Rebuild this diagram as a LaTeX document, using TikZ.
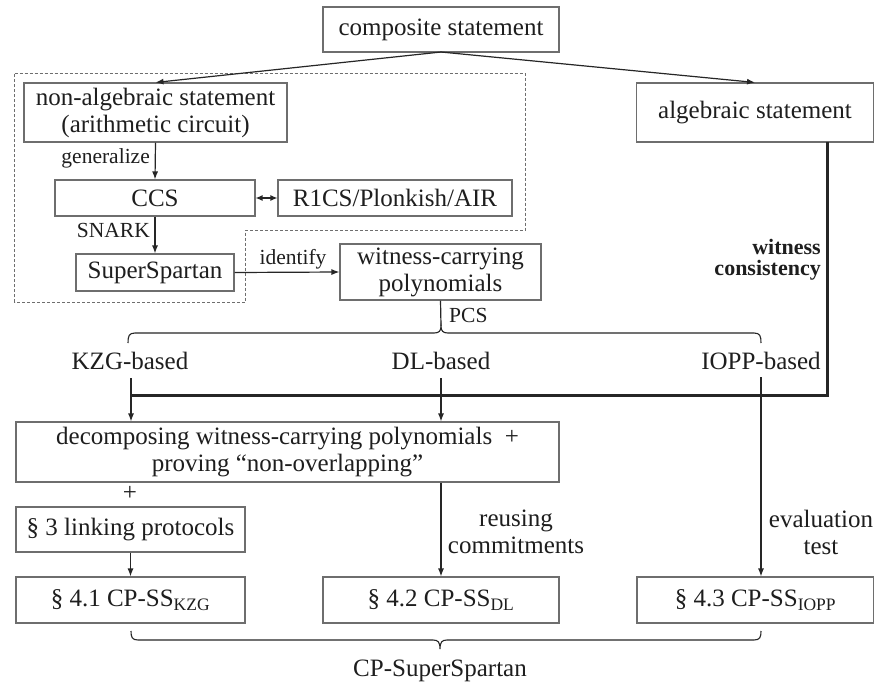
\documentclass[tikz,border=0pt]{standalone}
\usepackage{fontspec}
\setmainfont{Liberation Serif}
\usetikzlibrary{arrows.meta}
\definecolor{boxgray}{HTML}{6E6E6E}
\definecolor{txt}{HTML}{1E1E1E}
\definecolor{arrc}{HTML}{262626}
\begin{document}
\begin{tikzpicture}[x=1pt,y=-1pt,
  box/.style={draw=boxgray, line width=1.1pt, inner sep=0pt, align=center,
    font=\fontsize{25}{27}\selectfont, text=txt},
  lbl/.style={inner sep=0pt, font=\fontsize{21.5}{23}\selectfont, text=txt},
  big/.style={inner sep=0pt, align=center, font=\fontsize{25}{27}\selectfont, text=txt},
  arr/.style={draw=arrc, line width=1.2pt, -{Latex[length=8pt,width=6pt]}},
  plain/.style={draw=arrc, line width=1.2pt},
  thickln/.style={draw=arrc, line width=3pt},
  brc/.style={draw=arrc, line width=1.1pt},
  dashbox/.style={draw=boxgray, line width=0.9pt, dash pattern=on 3pt off 2pt}
]
\useasboundingbox[fill=white] (0,0) rectangle (874,683);

% nodes
\node[box, minimum width=236pt, minimum height=45pt] (comp) at (441,29.5) {composite statement};
\node[box, minimum width=263pt, minimum height=59pt] (nonalg) at (155.5,112.5) {non-algebraic statement\\(arithmetic circuit)};
\node[box, minimum width=237pt, minimum height=59pt] (alg) at (755,112.5) {algebraic statement};
\node[box, minimum width=200pt, minimum height=36pt] (ccs) at (155,198) {CCS};
\node[box, minimum width=234pt, minimum height=36pt] (r1cs) at (395,198) {R1CS/Plonkish/AIR};
\node[box, minimum width=158pt, minimum height=37pt] (ss) at (155,272.5) {SuperSpartan};
\node[box, minimum width=201pt, minimum height=56pt] (wcp) at (440.5,272) {witness-carrying\\polynomials};
\node[box, minimum width=543pt, minimum height=60pt] (dec) at (287.5,452) {decomposing witness-carrying polynomials~~+\\proving “non-overlapping”};
\node[box, minimum width=229pt, minimum height=45pt] (link) at (130.5,529.5) {§ 3 linking protocols};
\node[box, minimum width=229pt, minimum height=46pt] (kzg) at (130.5,600) {§ 4.1 CP-SS\textsubscript{KZG}};
\node[box, minimum width=236pt, minimum height=46pt] (dl) at (441,600) {§ 4.2 CP-SS\textsubscript{DL}};
\node[box, minimum width=237pt, minimum height=46pt] (iopp) at (755.5,600) {§ 4.3 CP-SS\textsubscript{IOPP}};

% dashed region
\draw[dashbox] (14.5,73) -- (525,73) -- (525,230) -- (245,230) -- (245,302) -- (14.5,302) -- cycle;

% labels
\node[lbl, anchor=east] (lgen) at (150,158) {generalize};
\node[lbl, anchor=east] (lsnark) at (150,230) {SNARK};
\node[lbl] (lid) at (293,259) {identify};
\node[lbl, anchor=west] (lpcs) at (449,315) {PCS};
\node[inner sep=0pt, anchor=east, align=right, font=\fontsize{22}{21}\selectfont\bfseries, text=txt] (lwc) at (821,260) {witness\\consistency};
\node[big] (lkzg) at (130,361) {KZG-based};
\node[big] (ldl) at (441,361) {DL-based};
\node[big] (liopp) at (761,361) {IOPP-based};
\node[big] (plus) at (130,493) {+};
\node[big] (lreuse) at (516,532) {reusing\\commitments};
\node[big] (leval) at (821,532) {evaluation\\test};
\node[big] (lcp) at (440,671) {CP-SuperSpartan};

% coordinates
\coordinate (ctop) at (441,52);
\coordinate (pcstip) at (441,326);
\coordinate (k0) at (131,378);
\coordinate (d0) at (441,378);
\coordinate (i0) at (761,377);
\coordinate (thk) at (827,395);
\coordinate (thl) at (131,395);
\coordinate (algb) at (827,142);
\coordinate (btip) at (440,649);

% connectors
\draw[arr] (ctop) -- (nonalg.north);
\draw[arr] (ctop) -- (alg.north);
\draw[arr] (nonalg.south) -- (ccs.north);
\draw[draw=arrc, line width=1.2pt, {Latex[length=7pt,width=6pt]}-{Latex[length=7pt,width=6pt]}] (ccs.east) -- (r1cs.west);
\draw[arr] (ccs.south) -- (ss.north);
\draw[arr] (ss.east) -- (wcp.west);
\draw[plain] (wcp.south) -- (pcstip);
% top brace (tip up)
\draw[brc] (128,343) .. controls (128,336) and (129,333) .. (135,333) -- (434,333)
  .. controls (439,333) and (441,331) .. (pcstip)
  .. controls (441,331) and (443,333) .. (448,333) -- (754,333)
  .. controls (760,333) and (761,336) .. (761,343);

\draw[thickln] (algb) -- (thk) -- (thl);
\draw[arr] (k0) -- (k0 |- dec.north);
\draw[arr] (d0) -- (d0 |- dec.north);
\draw[arr] (i0) -- (i0 |- iopp.north);
\draw[arr] (link.south) -- (kzg.north);
\draw[arr] (d0 |- dec.south) -- (dl.north);

% bottom brace (tip down)
\draw[brc] (131,631) .. controls (131,637) and (132,640) .. (138,640) -- (433,640)
  .. controls (438,640) and (440,642) .. (btip)
  .. controls (440,642) and (442,640) .. (447,640) -- (754,640)
  .. controls (760,640) and (761,637) .. (761,631);
\end{tikzpicture}
\end{document}
